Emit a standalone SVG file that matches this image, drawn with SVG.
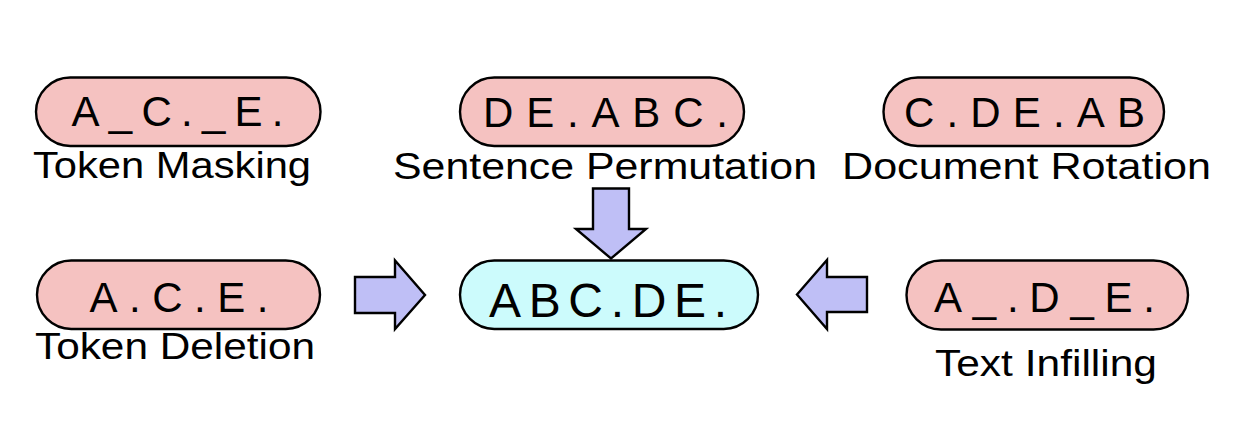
<svg xmlns="http://www.w3.org/2000/svg" width="1247" height="422" viewBox="0 0 1247 422">
<style>
.pill{fill:#f5c2c1;stroke:#000;stroke-width:2.4}
.pill.c{fill:#ccfbfc}
.pt{font-family:"Liberation Sans",Arial,sans-serif;font-size:42px;fill:#000}
.ct{font-family:"Liberation Sans",Arial,sans-serif;font-size:48px;fill:#000}
.lb{font-family:"Liberation Sans",Arial,sans-serif;font-size:37.5px;fill:#000}
.arr{fill:#bfbff6;stroke:#000;stroke-width:2.4;stroke-linejoin:miter}
</style>
<rect width="1247" height="422" fill="#fff"/>
<g id="token-masking">
<rect class="pill" x="36" y="77.5" width="284.5" height="68.5" rx="34.25"/>
<text class="pt" x="71.5" y="125.5" textLength="212" lengthAdjust="spacing">A_C._E.</text>
<text class="lb" x="33" y="178" textLength="278" lengthAdjust="spacingAndGlyphs">Token Masking</text>
</g>
<g id="sentence-permutation">
<rect class="pill" x="460" y="77.5" width="284" height="68.5" rx="34.25"/>
<text class="pt" x="483" y="126.5" textLength="245" lengthAdjust="spacing">DE.ABC.</text>
<text class="lb" x="393" y="179" textLength="424" lengthAdjust="spacingAndGlyphs">Sentence Permutation</text>
</g>
<g id="document-rotation">
<rect class="pill" x="883.5" y="77.5" width="280.5" height="68.5" rx="34.25"/>
<text class="pt" x="904" y="127" textLength="241" lengthAdjust="spacing">C.DE.AB</text>
<text class="lb" x="842" y="179" textLength="369" lengthAdjust="spacingAndGlyphs">Document Rotation</text>
</g>
<g id="token-deletion">
<rect class="pill" x="37" y="260.5" width="283" height="68.5" rx="34.25"/>
<text class="pt" x="89.5" y="311.5" textLength="179" lengthAdjust="spacing">A.C.E.</text>
<text class="lb" x="35" y="359" textLength="280" lengthAdjust="spacingAndGlyphs">Token Deletion</text>
</g>
<g id="original">
<rect class="pill c" x="460" y="260.5" width="298" height="68.5" rx="34.25"/>
<text class="ct" x="489" y="316.5" textLength="238" lengthAdjust="spacing">ABC.DE.</text>
</g>
<g id="text-infilling">
<rect class="pill" x="906.5" y="260.5" width="281.5" height="69" rx="34.5"/>
<text class="pt" x="934" y="311.5" textLength="221" lengthAdjust="spacing">A_.D_E.</text>
<text class="lb" x="935" y="376" textLength="222" lengthAdjust="spacingAndGlyphs">Text Infilling</text>
</g>
<g id="connectors">
<polygon class="arr" points="355,277 395,277 395,260.5 425,295 395,329 395,313 355,313"/>
<polygon class="arr" points="593,188.5 629,188.5 629,229 646,229 611,258.5 576,229 593,229"/>
<polygon class="arr" points="797,294.5 827,260 827,277 867,277 867,312 827,312 827,329"/>
</g>
</svg>
